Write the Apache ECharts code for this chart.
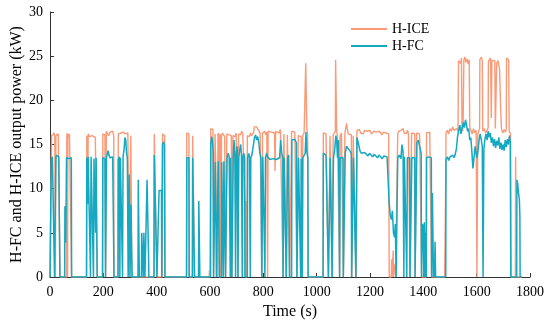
<!DOCTYPE html>
<html>
<head>
<meta charset="utf-8">
<script src="https://cdn.jsdelivr.net/npm/echarts@6/dist/echarts.min.js"></script>
<style>html,body{margin:0;padding:0;background:#fff;}#c{width:550px;height:327px;}</style>
</head>
<body>
<div id="c"></div>
<script>
const seriesNames = ['H-ICE', 'H-FC'];
const xLabelName = 'Time (s)';
const yLabelName = 'H-FC and H-ICE output power (kW)';

const iceData = [
[0,0],[5,0],[6,16],[9,16.2],[12,15.8],[15,16.3],[18,15.9],[19,6.7],[20,0],[21,6.8],[22,16],[25,16.2],[28,15.9],[31,16.2],[34,16],[37,16.1],[38,0],
[62,0],[63,16],[65,16.3],[66,0],[67,16.2],[70,15.9],[73,16.2],[77,16],[81,0],
[137,0],[138,16],[141,16.1],[142,8.3],[143,16.2],[148,15.9],[153,16.1],[158,16],[165,16.2],[170,15.8],[176,16],[177,0],
[197,0],[198,16.2],[202,16.4],[206,16.1],[209,0],[211,16.5],[215,16.3],[220,16],[225,16.4],[230,16.2],[235,16.5],[239,16],[240,0],
[255,0],[256,16.2],[262,16],[266,16.3],[270,16.1],[274,16.4],[279,16.6],[283,16.2],[287,16],[292,16.3],[296,0],[302,0],[303,16],[305,16.2],[306,5],[307,0],
[390,0],[391,16.2],[395,16],[398,16.3],[401,0],[421,0],[422,16.2],[426,16.4],[430,16],[431,0],
[512,0],[513,16.3],[517,16.1],[521,16.2],[522,0],[534,0],[535,16],[541,16.1],[542,0],
[597,0],[598,0.8],[600,0],[602,0],[603,16.8],[607,17],[611,16.7],[614,0],[618,0],[619,16.2],[623,16],[625,6.7],[626,0],[627,6.5],[628,0],[629,6.8],[630,16.3],[634,16],[636,0],[638,16.2],[640,6.5],[641,0],[642,6.6],[643,16],[647,16.3],[651,16.1],[655,15.9],[659,0],[662,0],[663,16.2],[667,16.4],[671,16.1],[675,16.3],[680,16],[682,0],[685,0],[686,16],[690,16.2],[694,15.9],[698,16.3],[702,16.1],[705,0],[707,16.2],[711,16.4],[715,16.1],[719,16.5],[723,16.2],[727,16.4],[730,16],[731,8.4],[733,0],[734,8.6],[736,0],[737,8.5],[739,0],[740,16],[744,16.2],[748,15.9],[752,16.3],[756,16],[760,16.2],[764,16.4],[766,17],[770,16.8],[775,17],[780,16.7],[785,16.9],[788,16.3],[792,16.1],[795,0],[797,16.3],[801,16.2],[805,16.5],[809,16.1],[813,16.4],[816,0],[818,16.5],[824,16.7],[830,16.4],[836,16.6],[842,16.3],[844,12],[846,16.5],[852,16.6],[858,16.3],[864,16.7],[870,16.5],[874,0],[876,0],[877,16.2],[882,16],[886,0],[889,0],[890,16.1],[896,16.3],[899,0],[905,0],[906,16.5],[912,16.7],[918,16.4],[924,16.6],[926,0],[930,0],[931,16],[936,16.2],[942,15.9],[946,0],[948,16],[953,16.3],[957,16.5],[959,24.2],[961,24.3],[963,16.8],[966,16.2],[968,0],
[1024,0],[1025,16.3],[1030,16.5],[1035,16.2],[1040,16.4],[1044,0],[1049,0],[1050,16],[1055,16.2],[1058,0],[1061,0],[1062,16.1],[1067,16.3],[1070,16.5],[1071,24.6],[1073,24.8],[1075,16.5],[1078,16],[1082,16.2],[1086,0],[1088,16],[1093,16.3],[1098,16.1],[1100,0],[1105,0],[1106,16.3],[1112,17.4],[1118,16.2],[1124,16.4],[1130,16.1],[1132,0],[1136,0],[1137,16],[1143,16.2],[1148,0],[1150,0],[1151,16.6],[1156,16.4],[1160,16.7],[1165,16.3],[1170,16.5],[1175,16.2],[1180,16.6],[1185,16.4],[1190,16.5],[1195,16.3],[1200,16.6],[1205,16.2],[1210,16.4],[1215,16.5],[1220,16.3],[1225,16.4],[1230,16.2],[1235,16.5],[1240,16.3],[1245,16.1],[1250,16.4],[1255,16.2],[1260,16.3],[1265,16.1],[1270,16.2],[1272,0],[1280,0],[1281,2],[1282,0],[1286,0],[1287,3],[1288,0],[1293,0],[1294,1.5],[1296,0],[1303,0],
[1304,16.2],[1308,16.5],[1312,16.3],[1316,16.6],[1320,16.4],[1324,16.8],[1328,16.3],[1332,16.5],[1336,16.2],[1340,16.6],[1344,16.3],[1348,16.1],[1350,0],[1355,0],[1356,16.3],[1362,16.5],[1368,16.2],[1369,0],[1374,0],[1375,16.3],[1380,16.5],[1386,16.2],[1392,16.4],[1394,0],[1411,0],[1412,16.3],[1418,16.1],[1424,16.4],[1430,16.2],[1431,0],
[1480,0],[1483,8],[1485,16.3],[1490,16.6],[1495,16.2],[1500,16.8],[1505,16.5],[1510,17],[1515,16.6],[1519,16.5],[1525,16.8],[1530,16.5],[1532,24.5],[1536,24.7],[1540,24.2],[1543,24.8],[1545,17],[1547,16.5],[1549,17],[1552,24.6],[1556,24.9],[1560,24.3],[1564,24.7],[1568,24.1],[1572,24.6],[1574,17],[1578,16.6],[1583,16.2],[1588,16.8],[1593,16.3],[1598,16.6],[1600,16.5],[1601,0],[1603,0],[1604,16.2],[1608,16.5],[1611,16.8],[1612,24.6],[1618,24.9],[1621,24.5],[1623,16.5],[1628,16.8],[1634,16.3],[1639,16.6],[1643,16.9],[1644,24.4],[1648,24.6],[1652,24.8],[1655,18],[1657,24.5],[1662,24.7],[1668,24.5],[1670,16.8],[1672,17],[1675,24.2],[1680,24.5],[1684,24.3],[1686,23.5],[1690,19],[1693,16.8],[1698,16.3],[1703,16.7],[1708,16.4],[1711,16.8],[1712,24.8],[1716,25],[1720,24.6],[1722,16.5],[1727,16.2],[1729,0],
[1745,0],[1746,13.6],[1748,13.5],[1749,0],[1770,0]
];

const fcData = [
[0,0],[4,0],[5,13.3],[9,13.6],[12,13.4],[15,13.6],[17,0],[21,0],[22,13.5],[24,13.8],[27,14],[30,13.7],[33,13.6],[36,13.8],[37,0],
[55,0],[56,8],[58,8.1],[59,3.9],[61,4],[62,13.5],[65,13.7],[70,13.4],[75,13.6],[80,13.5],[81,0],
[137,0],[138,13.5],[141,13.5],[142,8.3],[143,13.6],[150,13.4],[152,0],[154,13.6],[160,13.5],[163,0],[165,13.4],[170,13.6],[171,5],[173,13.5],[176,13.5],[177,0],
[197,0],[198,13.5],[203,13.6],[206,13.4],[208,0],[211,0],[212,13.6],[215,13.8],[218,14.3],[221,13.8],[225,13.5],[230,13.7],[235,13.6],[239,13.5],[240,0],
[255,0],[256,13.3],[260,13.6],[262,0],[264,13.5],[268,13.4],[272,0],[274,13.6],[278,14.5],[281,15.8],[284,15.5],[287,14],[290,13.5],[293,0],[296,0],[297,11.6],[299,11.5],[300,0],[303,0],[304,8.2],[305,4.9],[307,4.8],[308,0],
[330,0],[331,11],[334,11],[335,0],[343,0],[344,5],[348,4.9],[350,0],[352,5],[355,5],[356,0],[363,0],[364,11],[370,11],[371,0],[390,0],[391,13.8],[395,14],[398,13.7],[401,0],[408,0],[409,9.8],[418,9.8],[419,0],[421,0],[422,15],[426,15.3],[429,15],[431,0],
[512,0],[513,13.5],[521,13.5],[522,0],[534,0],[535,13.5],[541,13.5],[542,0],[557,0],[558,8.6],[561,8.6],[562,0],
[602,0],[603,15],[606,15.9],[609,15.5],[612,14],[613,0],[619,0],[620,13],[623,13.2],[624,0],[630,0],[631,13.1],[634,13.3],[635,0],[643,0],[644,13],[648,13.2],[650,0],[652,13.1],[655,13.3],[658,0],[663,0],[664,13.5],[668,14],[672,13.6],[676,0],[677,13.5],[681,13.7],[682,0],[686,0],[687,13.5],[690,15.5],[693,14.2],[696,0],[698,13.6],[702,14.8],[705,0],[708,13.5],[712,14.5],[715,15],[718,13.8],[721,0],[723,13.6],[727,14],[730,13.5],[731,0],[740,0],[741,13.5],[745,14],[748,13.6],[751,0],[753,13.5],[757,13.8],[761,13.6],[764,14],[767,15.8],[771,16.1],[775,15.5],[779,15.9],[783,15.2],[787,14],[791,13.5],[794,0],[797,0],[798,13.6],[802,13.8],[806,0],[808,13.5],[812,14],[816,13.6],[819,13.4],[825,13.3],[831,13.2],[837,13.4],[843,13.2],[849,13.3],[855,13.1],[861,13.5],[865,15.5],[869,14],[873,13.5],[874,0],[877,0],[878,13.5],[884,13.6],[886,0],[890,0],[891,13.5],[895,13.8],[898,0],[906,0],[907,15.5],[912,15.3],[918,15.6],[924,15.2],[926,0],[931,0],[932,13.5],[936,13.6],[940,0],[942,13.4],[946,0],[948,13.5],[953,13.7],[957,14],[960,16.4],[963,14.2],[967,13.5],[968,0],
[1024,0],[1025,14],[1030,14.2],[1035,13.8],[1040,14],[1044,0],[1050,0],[1051,13.5],[1057,13.6],[1058,0],[1062,0],[1063,13.5],[1068,14.5],[1072,16],[1075,15.5],[1078,13.5],[1082,15.5],[1086,0],[1088,13.5],[1094,13.6],[1099,13.5],[1100,0],[1106,0],[1107,14],[1112,14.8],[1118,15],[1124,14.3],[1130,14],[1131,0],[1137,0],[1138,13.5],[1143,13.7],[1147,0],[1150,0],[1151,15.8],[1156,15.2],[1162,14.3],[1168,14],[1174,13.8],[1180,14.1],[1186,13.9],[1192,13.7],[1198,14],[1204,13.8],[1210,13.6],[1216,13.9],[1222,13.7],[1228,13.5],[1234,13.8],[1240,13.6],[1246,13.4],[1252,13.7],[1258,13.5],[1264,13.6],[1270,13.4],[1272,8.3],[1276,7],[1280,6.5],[1284,7.5],[1288,5],[1292,4.5],[1295,6],[1298,0],[1303,0],
[1304,13.5],[1310,13.8],[1316,13.4],[1320,15],[1324,14.2],[1327,0],[1329,13.6],[1334,13.5],[1338,0],[1340,13.5],[1344,13.7],[1349,13.5],[1350,0],[1356,0],[1357,13.5],[1368,13.5],[1369,0],[1375,0],[1376,15.2],[1381,15.5],[1386,15.3],[1392,14],[1393,0],[1396,0],[1397,6],[1400,5.5],[1402,0],[1404,6.2],[1407,0],[1409,5],[1411,0],[1412,13.5],[1420,13.6],[1426,13.4],[1430,13.5],[1431,0],[1433,0],[1434,9.5],[1437,9.3],[1438,0],[1440,2],[1442,0],[1444,4],[1446,0],
[1484,0],[1485,13.3],[1490,13.6],[1495,13.2],[1500,13.6],[1505,13.4],[1510,13.8],[1515,13.5],[1519,13.8],[1524,14.5],[1528,15.8],[1532,16.5],[1537,17.2],[1541,16.2],[1545,16.8],[1550,17.5],[1554,16.9],[1558,17.8],[1562,17.2],[1566,16.5],[1570,16.8],[1574,15.5],[1578,15.8],[1582,14.2],[1586,12.3],[1590,13.5],[1594,14.8],[1598,14],[1601,13.5],[1605,14.3],[1609,15.5],[1613,16.2],[1617,15.6],[1621,14.8],[1624,0],[1626,0],[1627,14.5],[1631,15.6],[1635,16.2],[1639,15.5],[1643,16.5],[1647,15.8],[1651,16.3],[1655,15.2],[1659,15.8],[1663,14.8],[1667,15.6],[1671,14.6],[1675,15.4],[1679,14.9],[1683,15.8],[1687,14.5],[1691,15.2],[1695,14.4],[1699,15.0],[1703,14.3],[1707,15.5],[1711,14.7],[1715,15.6],[1719,15.0],[1723,16.0],[1726,15.2],[1728,0],
[1750,0],[1751,11],[1754,10.5],[1757,9.5],[1760,8.8],[1762,7],[1763,0],[1770,0]
];

const iceColor = '#FA9A78';
const fcColor = '#14A9C1';
const FONT = "'Liberation Serif', 'Times New Roman', serif";

const chart = echarts.init(document.getElementById('c'), null, {renderer: 'canvas'});
chart.setOption({
  animation: false,
  backgroundColor: '#fff',
  grid: {left: 50, right: 20, top: 12, bottom: 50, containLabel: false, outerBoundsMode: 'none'},
  legend: {
    orient: 'vertical', left: 346, top: 17, itemGap: 3,
    itemWidth: 36, itemHeight: 2, icon: 'rect',
    textStyle: {fontFamily: FONT, fontSize: 14, color: '#000'},
    data: seriesNames
  },
  xAxis: {
    type: 'value', min: 0, max: 1800, interval: 200,
    name: xLabelName, nameLocation: 'middle', nameGap: 27, nameMoveOverlap: false,
    nameTextStyle: {fontFamily: FONT, fontSize: 16, color: '#000'},
    axisLine: {show: true, lineStyle: {color: '#333', width: 1}},
    axisTick: {show: true, inside: true, length: 4, lineStyle: {color: '#333'}},
    axisLabel: {fontFamily: FONT, fontSize: 14, color: '#000', margin: 8, formatter: v => String(v)},
    splitLine: {show: false}
  },
  yAxis: {
    type: 'value', min: 0, max: 30, interval: 5,
    name: yLabelName, nameLocation: 'middle', nameGap: 25, nameMoveOverlap: false,
    nameTextStyle: {fontFamily: FONT, fontSize: 16, color: '#000'},
    axisLine: {show: true, lineStyle: {color: '#333', width: 1}},
    axisTick: {show: true, inside: true, length: 4, lineStyle: {color: '#333'}},
    axisLabel: {fontFamily: FONT, fontSize: 14, color: '#000', margin: 7, formatter: v => String(v)},
    splitLine: {show: false}
  },
  series: [
    {name: seriesNames[0], type: 'line', data: iceData, showSymbol: false, symbol: 'none',
     lineStyle: {color: iceColor, width: 1.4}, itemStyle: {color: iceColor}, z: 2},
    {name: seriesNames[1], type: 'line', data: fcData, showSymbol: false, symbol: 'none',
     lineStyle: {color: fcColor, width: 1.5}, itemStyle: {color: fcColor}, z: 3}
  ]
});
</script>
</body>
</html>
